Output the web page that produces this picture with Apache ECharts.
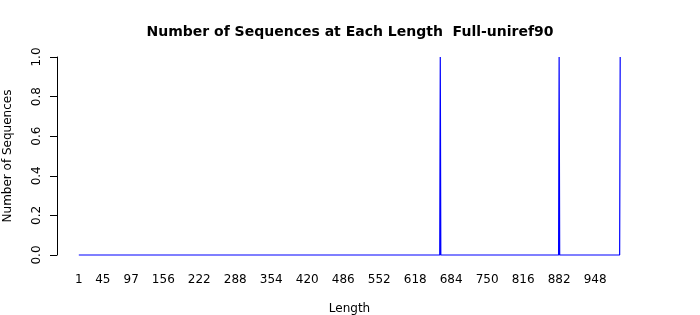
<!DOCTYPE html>
<html>
<head>
<meta charset="utf-8">
<script src="https://cdn.jsdelivr.net/npm/echarts@6/dist/echarts.min.js"></script>
<style>html,body{margin:0;padding:0;background:#fff}#c{width:700px;height:315px}</style>
</head>
<body>
<div id="c"></div>
<script>
var lengths = [1, 663, 664, 665, 881, 882, 883, 993, 994];
var counts  = [0, 0, 1, 0, 0, 1, 0, 0, 1];
var xTickLabels = [1, 45, 97, 156, 222, 288, 354, 420, 486, 552, 618, 684, 750, 816, 882, 948];
var yTicks = [0, 0.2, 0.4, 0.6, 0.8, 1.0];
var titleText = 'Number of Sequences at Each Length  Full-uniref90';

var chart = echarts.init(document.getElementById('c'), null, {renderer: 'canvas'});
var font = 'DejaVu Sans';
chart.setOption({
  animation: false,
  backgroundColor: '#fff',
  title: {
    text: titleText, left: 'center', top: 20,
    textStyle: {fontFamily: font, fontSize: 14, fontWeight: 'bold', color: '#000'}
  },
  grid: {left: 57, right: 58, top: 57, bottom: 60, containLabel: false, outerBoundsMode: 'none'},
  xAxis: {
    type: 'value', min: -39, max: 1034,
    name: 'Length', nameLocation: 'middle', nameGap: 48,
    nameTextStyle: {fontFamily: font, fontSize: 12, color: '#000'},
    axisLine: {show: false, onZero: false}, axisTick: {show: false}, splitLine: {show: false},
    axisLabel: {customValues: xTickLabels, fontFamily: font, fontSize: 12, color: '#000', margin: 19, showMinLabel: true, showMaxLabel: true, hideOverlap: false}
  },
  yAxis: {
    type: 'value', min: 0, max: 1,
    name: 'Number of Sequences', nameLocation: 'middle', nameGap: 43, nameRotate: 90,
    nameTextStyle: {fontFamily: font, fontSize: 12, color: '#000'},
    axisLine: {show: true, onZero: false, lineStyle: {color: '#000', width: 1}},
    axisTick: {show: true, inside: false, length: 7, customValues: yTicks, lineStyle: {color: '#000'}},
    splitLine: {show: false},
    axisLabel: {
      customValues: yTicks,
      rotate: 90, fontFamily: font, fontSize: 12, color: '#000', margin: 14,
      formatter: function (v) { return v.toFixed(1); }
    }
  },
  series: [{
    type: 'line',
    data: lengths.map(function (l, i) { return [l, counts[i]]; }),
    showSymbol: false, symbol: 'none',
    lineStyle: {color: '#0000ff', width: 1.2},
    clip: false
  }]
});
</script>
</body>
</html>
